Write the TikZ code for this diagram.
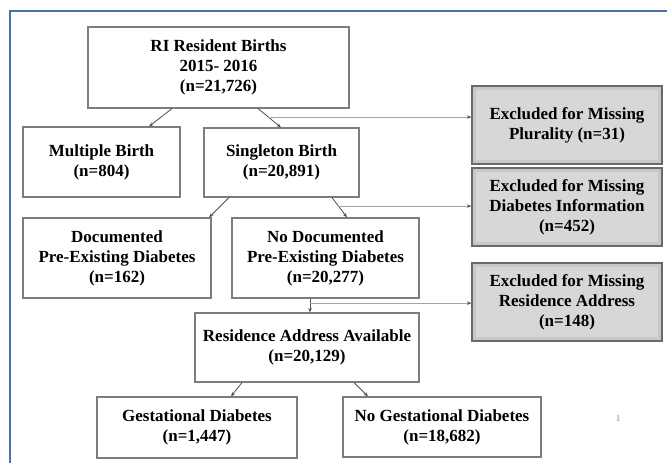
\documentclass[tikz,border=0pt]{standalone}
\usepackage{fontspec}
\setmainfont{Liberation Serif}
\usetikzlibrary{arrows.meta,calc}
\definecolor{frameblue}{RGB}{74,111,170}
\definecolor{boxline}{RGB}{125,125,125}
\definecolor{exouter}{RGB}{200,200,200}
\definecolor{exinner}{RGB}{215,215,215}
\definecolor{exborder}{RGB}{105,105,105}
\definecolor{conn}{RGB}{80,80,80}
\definecolor{exconn}{RGB}{165,165,165}
\tikzset{
  box/.style={draw=boxline, line width=1.1pt, fill=white, align=center,
    font=\fontsize{17}{20}\selectfont\bfseries, inner sep=0pt},
  exbox/.style={draw=exborder, line width=1.3pt, fill=exouter, align=center,
    font=\fontsize{17}{20}\selectfont\bfseries, inner sep=0pt,
    minimum width=190pt, minimum height=78pt,
    path picture={\fill[exinner] ([shift={(4pt,4pt)}]path picture bounding box.south west)
      rectangle ([shift={(-4pt,-4pt)}]path picture bounding box.north east);}},
  arr/.style={draw=conn, line width=0.8pt, -{Stealth[length=4.5pt,width=3.5pt]}},
  exarr/.style={draw=exconn, line width=1pt, -{Stealth[length=4.5pt,width=3.5pt,color=conn]}},
}
\begin{document}
\begin{tikzpicture}[x=1pt,y=-1pt]
\useasboundingbox[fill=white] (0,0) rectangle (667,463);
\draw[frameblue, line width=1.6pt] (10,470) -- (10,11) -- (670,11);

\node[box, minimum width=261pt, minimum height=81pt] (top) at (218.5,67.5)
  {RI Resident Births\\2015- 2016\\(n=21,726)};
\node[box, minimum width=157pt, minimum height=70pt] (mult) at (101.5,162)
  {Multiple Birth\\(n=804)};
\node[box, minimum width=155pt, minimum height=69pt] (single) at (281.5,162.5)
  {Singleton Birth\\(n=20,891)};
\node[box, minimum width=188pt, minimum height=80pt] (doc) at (117,258)
  {Documented\\Pre-Existing Diabetes\\(n=162)};
\node[box, minimum width=187pt, minimum height=80pt] (nodoc) at (325.5,258)
  {No Documented\\Pre-Existing Diabetes\\(n=20,277)};
\node[box, minimum width=224pt, minimum height=69pt] (resid) at (307,347.5)
  {Residence Address Available\\(n=20,129)};
\node[box, minimum width=200pt, minimum height=61pt] (gest) at (197,427.5)
  {Gestational Diabetes\\(n=1,447)};
\node[box, minimum width=198pt, minimum height=60pt] (nogest) at (442,427)
  {No Gestational Diabetes\\(n=18,682)};

\node[exbox] (ex1) at (567,125) {Excluded for Missing\\Plurality (n=31)};
\node[exbox] (ex2) at (567,207) {Excluded for Missing\\Diabetes Information\\(n=452)};
\node[exbox] (ex3) at (567,302) {Excluded for Missing\\Residence Address\\(n=148)};

\node[text=gray, font=\fontsize{9}{10}\selectfont] (pg) at (618,419) {1};

% top -> children
\coordinate (a1) at ([xshift=-46.5pt]top.south);
\coordinate (a2) at ([xshift=47.5pt]mult.north);
\draw[arr] (a1) -- (a2);
\coordinate (b1) at ([xshift=39.5pt]top.south);
\coordinate (b2) at ([xshift=-0.5pt]single.north);
\draw[arr] (b1) -- (b2);
\coordinate (j1) at ($(b1)!0.45!(b2)$);
\draw[exarr] (j1) -- (j1 -| ex1.west);

% singleton -> children
\coordinate (c1) at ([xshift=-52.5pt]single.south);
\coordinate (c2) at ([xshift=92pt]doc.north);
\draw[arr] (c1) -- (c2);
\coordinate (d1) at ([xshift=50.5pt]single.south);
\coordinate (d2) at ([xshift=21.5pt]nodoc.north);
\draw[arr] (d1) -- (d2);
\coordinate (j2) at ($(d1)!0.43!(d2)$);
\draw[exarr] (j2) -- (j2 -| ex2.west);

% no documented -> residence
\coordinate (e1) at ([xshift=-15.5pt]nodoc.south);
\coordinate (e2) at (e1 |- resid.north);
\draw[arr] (e1) -- (e2);
\coordinate (j3) at ($(e1)!0.33!(e2)$);
\draw[exarr] (j3) -- (j3 -| ex3.west);

% residence -> children
\coordinate (f1) at ([xshift=-65pt]resid.south);
\coordinate (f2) at ([xshift=34pt]gest.north);
\draw[arr] (f1) -- (f2);
\coordinate (g1) at ([xshift=47pt]resid.south);
\coordinate (g2) at ([xshift=-74pt]nogest.north);
\draw[arr] (g1) -- (g2);
\end{tikzpicture}
\end{document}
